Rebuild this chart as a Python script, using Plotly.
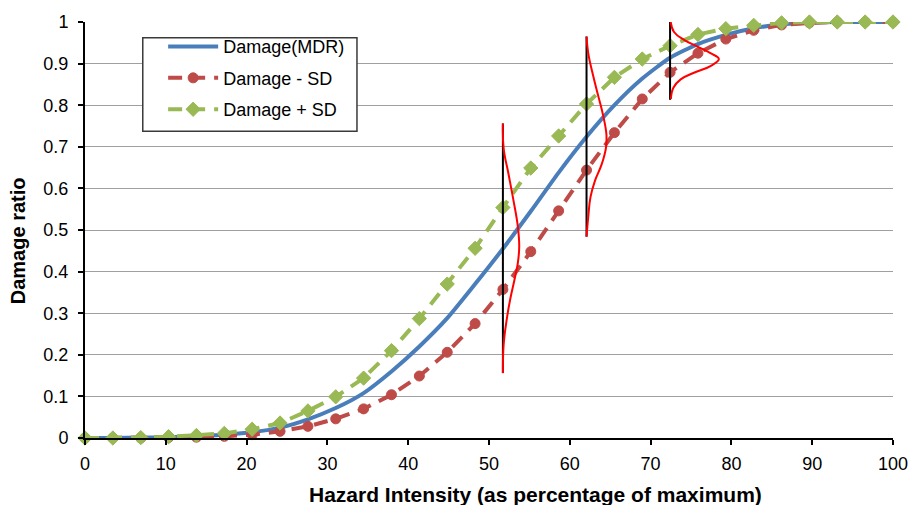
import plotly.graph_objects as go

# Hazard intensity sample points (percentage of maximum)
intensity = [0.0, 3.45, 6.9, 10.34, 13.79, 17.24, 20.69, 24.14, 27.59, 31.03,
             34.48, 37.93, 41.38, 44.83, 48.28, 51.72, 55.17, 58.62, 62.07, 65.52,
             68.97, 72.41, 75.86, 79.31, 82.76, 86.21, 89.66, 93.10, 96.55, 100.0]

# Mean damage ratio and +/- one standard deviation
damage_mdr = [0.0, 0.0, 0.001, 0.002, 0.004, 0.008, 0.014, 0.025, 0.045, 0.072,
              0.108, 0.160, 0.220, 0.288, 0.370, 0.455, 0.545, 0.638, 0.724, 0.800,
              0.864, 0.914, 0.947, 0.969, 0.985, 0.994, 0.998, 1.0, 1.0, 1.0]
damage_minus_sd = [0.0, 0.0, 0.0, 0.001, 0.002, 0.004, 0.008, 0.016, 0.028, 0.046,
                   0.070, 0.104, 0.149, 0.206, 0.275, 0.357, 0.448, 0.546, 0.644, 0.734,
                   0.815, 0.879, 0.925, 0.959, 0.980, 0.993, 0.998, 1.0, 1.0, 1.0]
damage_plus_sd = [0.0, 0.0, 0.001, 0.003, 0.006, 0.011, 0.021, 0.036, 0.065, 0.099,
                  0.144, 0.210, 0.287, 0.370, 0.456, 0.554, 0.649, 0.726, 0.803, 0.867,
                  0.911, 0.943, 0.970, 0.984, 0.992, 0.998, 1.0, 1.0, 1.0, 1.0]

# Damage distributions drawn at three intensities: vertical base line span and
# the curve as (damage ratio, horizontal offset in intensity units)
dist_centers = [51.72, 62.07, 72.41]
dist_spans = [(0.156, 0.756), (0.484, 0.965), (0.813, 1.0)]
dist_ratio = [
    [0.756, 0.697, 0.634, 0.570, 0.508, 0.460, 0.421, 0.381, 0.334, 0.287, 0.224, 0.156],
    [0.965, 0.925, 0.870, 0.823, 0.775, 0.728, 0.697, 0.657, 0.618, 0.579, 0.531, 0.484],
    [1.0, 0.976, 0.957, 0.941, 0.925, 0.911, 0.894, 0.878, 0.862, 0.842, 0.815],
]
dist_offset = [
    [0.0, 0.09, 0.70, 1.32, 1.85, 2.02, 1.85, 1.44, 0.91, 0.49, 0.09, 0.0],
    [0.0, 0.21, 0.83, 1.44, 2.06, 2.47, 2.40, 1.86, 1.04, 0.49, 0.21, 0.0],
    [0.08, 0.49, 1.73, 3.37, 5.0, 6.04, 5.0, 2.96, 1.31, 0.41, 0.10],
]

x_ticks = list(range(0, 101, 10))
y_ticks = [i / 10 for i in range(11)]
y_tick_text = ["0", "0.1", "0.2", "0.3", "0.4", "0.5", "0.6", "0.7", "0.8", "0.9", "1"]

FONT = "Liberation Sans, Arial, Helvetica, sans-serif"
BLUE = "#4A7EBB"
RED = "#BE4B48"
GREEN = "#98B954"

fig = go.Figure()

fig.add_trace(go.Scatter(
    x=intensity, y=damage_mdr, name="Damage(MDR)", mode="lines",
    line=dict(color=BLUE, width=4, shape="spline", smoothing=0.6),
    cliponaxis=False, legendgroup="a",
))
fig.add_trace(go.Scatter(
    x=intensity, y=damage_minus_sd, name="Damage - SD", mode="lines+markers",
    line=dict(color=RED, width=4, dash="14px,9px"),
    marker=dict(symbol="circle", size=10, color=RED, line=dict(color=RED, width=1)),
    cliponaxis=False, legendgroup="b",
))
fig.add_trace(go.Scatter(
    x=intensity, y=damage_plus_sd, name="Damage + SD", mode="lines+markers",
    line=dict(color=GREEN, width=4, dash="14px,9px"),
    marker=dict(symbol="diamond", size=11, color=GREEN, line=dict(color=GREEN, width=1)),
    cliponaxis=False, legendgroup="c",
))

for cx, (y0, y1), ys, offs in zip(dist_centers, dist_spans, dist_ratio, dist_offset):
    fig.add_trace(go.Scatter(
        x=[cx, cx], y=[y0, y1], mode="lines",
        line=dict(color="black", width=2), showlegend=False,
        hoverinfo="skip", cliponaxis=False,
    ))
    fig.add_trace(go.Scatter(
        x=[cx + o for o in offs], y=ys, mode="lines",
        line=dict(color="#FF0000", width=2, shape="spline", smoothing=1.2),
        showlegend=False, hoverinfo="skip", cliponaxis=False,
    ))

fig.update_layout(
    width=920, height=505,
    margin=dict(l=85, r=24, t=15, b=67),
    paper_bgcolor="white", plot_bgcolor="white",
    font=dict(family=FONT, size=18, color="black"),
    showlegend=True,
    legend=dict(
        x=0.0967, y=0.985, xanchor="left", yanchor="top",
        bgcolor="rgba(0,0,0,0)", borderwidth=0,
        font=dict(family=FONT, size=18, color="black"),
        tracegroupgap=5, itemwidth=50,
    ),
    # legend frame
    shapes=[dict(
        type="rect", xref="paper", yref="paper",
        x0=0.0715, x1=0.3366, y0=0.7376, y1=0.9622,
        line=dict(color="#3A3A3A", width=1.5), fillcolor="white", layer="above",
    )],
    xaxis=dict(
        range=[0, 100], tickmode="array", tickvals=x_ticks,
        ticks="outside", ticklen=5, tickwidth=1.5, tickcolor="black",
        showline=True, linecolor="black", linewidth=2,
        showgrid=False, zeroline=False,
        tickfont=dict(family=FONT, size=18), ticklabelstandoff=3,
    ),
    yaxis=dict(
        range=[0, 1], tickmode="array", tickvals=y_ticks, ticktext=y_tick_text,
        ticks="outside", ticklen=5, tickwidth=1.5, tickcolor="black",
        showline=True, linecolor="black", linewidth=2,
        showgrid=True, gridcolor="#A0A0A0", gridwidth=1.3, zeroline=False,
        tickfont=dict(family=FONT, size=18), ticklabelstandoff=6,
    ),
    annotations=[
        dict(text="<b>Hazard Intensity (as percentage of maximum)</b>",
             xref="paper", yref="paper", x=0.557, y=0, xanchor="center", yanchor="middle",
             yshift=-56, showarrow=False, font=dict(family=FONT, size=21)),
        dict(text="<b>Damage ratio</b>", textangle=-90,
             xref="paper", yref="paper", x=0, y=0.473, xanchor="center", yanchor="middle",
             xshift=-67, showarrow=False, font=dict(family=FONT, size=20)),
    ],
)

fig.write_html("out.html")
